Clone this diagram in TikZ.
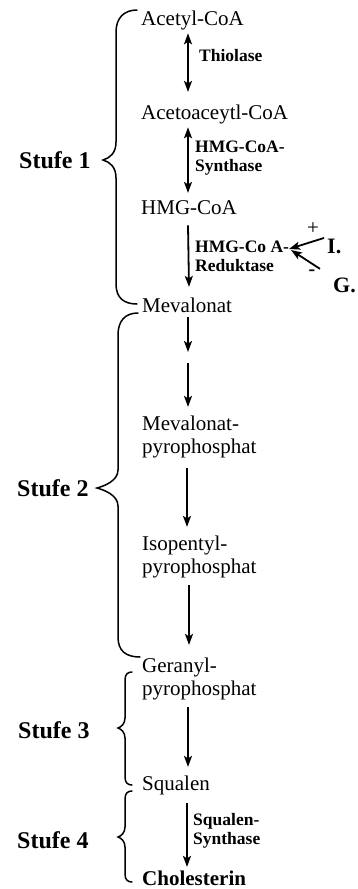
\documentclass[tikz,border=0pt]{standalone}
\usepackage{fontspec}
\setmainfont{Liberation Serif}
\usetikzlibrary{arrows.meta}
\begin{document}
\begin{tikzpicture}[x=1pt,y=-1pt,
 cpd/.style={anchor=north west,inner sep=0pt,align=left,font=\fontsize{21}{23}\selectfont},
 enz/.style={anchor=north west,inner sep=0pt,align=left,font=\fontsize{17.5}{19}\selectfont\bfseries},
 stufe/.style={anchor=base west,inner sep=0pt,font=\fontsize{24}{28}\selectfont\bfseries},
 eff/.style={anchor=base west,inner sep=0pt,font=\fontsize{22}{26}\selectfont\bfseries},
 tipA/.tip={Stealth[length=11pt,width=8pt,inset=2.5pt]},
 arr/.style={line width=1.8pt,-tipA},
 dbl/.style={line width=1.8pt,tipA-tipA},
 brace/.style={line width=1.5pt,line cap=round}]
\useasboundingbox (0,0) rectangle (357,889);

% compounds
\node[cpd] (n1) at (141,8.9) {\strut Acetyl-CoA};
\node[cpd] (n2) at (141,102.9) {\strut Acetoaceytl-CoA};
\node[cpd] (n3) at (141,197.9) {\strut HMG-CoA};
\node[cpd] (n4) at (142,295.9) {\strut Mevalonat};
\node[cpd] (n5) at (142,413.9) {\strut Mevalonat-\\\strut pyrophosphat};
\node[cpd] (n6) at (142,533.9) {\strut Isopentyl-\\\strut pyrophosphat};
\node[cpd] (n7) at (142,655.9) {\strut Geranyl-\\\strut pyrophosphat};
\node[cpd] (n8) at (142,773.9) {\strut Squalen};
\node[cpd,font=\fontsize{21}{23}\selectfont\bfseries] (n9) at (142,868.9) {\strut Cholesterin};

% enzymes
\node[enz] (e1) at (199,47.7) {\strut Thiolase};
\node[enz] (e2) at (195,138.7) {\strut HMG-CoA-\\\strut Synthase};
\node[enz] (e3) at (195,238.7) {\strut HMG-Co A-\\\strut Reduktase};
\node[enz] (e4) at (193,811.7) {\strut Squalen-\\\strut Synthase};

% stages
\node[stufe] (s1) at (19,168) {Stufe 1};
\node[stufe] (s2) at (17,496) {Stufe 2};
\node[stufe] (s3) at (18,738) {Stufe 3};
\node[stufe] (s4) at (17,848) {Stufe 4};

% effectors
\node[eff] (I) at (327,253) {I.};
\node[eff] (G) at (333,292) {G.};
\node[inner sep=0pt,font=\fontsize{21}{23}\selectfont] (plus) at (313,229) {+};
\node[inner sep=0pt,font=\fontsize{20}{22}\selectfont\bfseries] (minus) at (312,273) {-};
\coordinate (tgt) at (289,249);

% main arrows
\draw[dbl] ([shift={(47,1)}]n1.south west) -- ([shift={(47,-11)}]n2.north west);
\draw[dbl] ([shift={(47,1)}]n2.south west) -- ([shift={(47,-5)}]n3.north west);
\draw[arr] ([shift={(47,4)}]n3.south west) -- ([shift={(47,-9)}]n4.north west);
\coordinate (m1) at (188,352);
\coordinate (m2) at (188,363);
\draw[arr] ([shift={(46,-2)}]n4.south west) -- (m1);
\draw[arr] (m2) -- ([shift={(46,-7)}]n5.north west);
\draw[arr] ([shift={(45,8)}]n5.south west) -- ([shift={(45,-7)}]n6.north west);
\draw[arr] ([shift={(47,5)}]n6.south west) -- ([shift={(47,-11)}]n7.north west);
\draw[arr] ([shift={(46,5)}]n7.south west) -- ([shift={(46,-7)}]n8.north west);
\draw[arr] ([shift={(45,6)}]n8.south west) -- ([shift={(45,-2)}]n9.north west);

% effector arrows
\draw[arr] ([shift={(-3,-8)}]I.west) -- (tgt);
\draw[arr] ([shift={(-13,-16)}]G.west) -- ([shift={(2,1)}]tgt);

% braces
\draw[brace] (137,10) .. controls (124,10) and (116,18) .. (116,32) -- (116,142)
  .. controls (116,153) and (110,158) .. (103,160)
  .. controls (110,162) and (116,167) .. (116,178) -- (116,284)
  .. controls (116,298) and (124,304) .. (137,304);
\draw[brace] (138,313) .. controls (125,313) and (118,321) .. (118,335) -- (118,470)
  .. controls (118,481) and (104,486) .. (97,488)
  .. controls (104,490) and (118,495) .. (118,506) -- (118,637)
  .. controls (118,651) and (126,657) .. (140,657);
\draw[brace] (132,672) .. controls (128,672) and (125,674) .. (125,680) -- (125,718)
  .. controls (125,724) and (121,727) .. (118,728)
  .. controls (121,729) and (125,732) .. (125,738) -- (125,777)
  .. controls (125,783) and (128,785) .. (132,785);
\draw[brace] (132,791) .. controls (128,791) and (125,793) .. (125,799) -- (125,827)
  .. controls (125,833) and (121,836) .. (118,837)
  .. controls (121,838) and (125,841) .. (125,847) -- (125,874)
  .. controls (125,880) and (128,882) .. (132,882);
\end{tikzpicture}
\end{document}
